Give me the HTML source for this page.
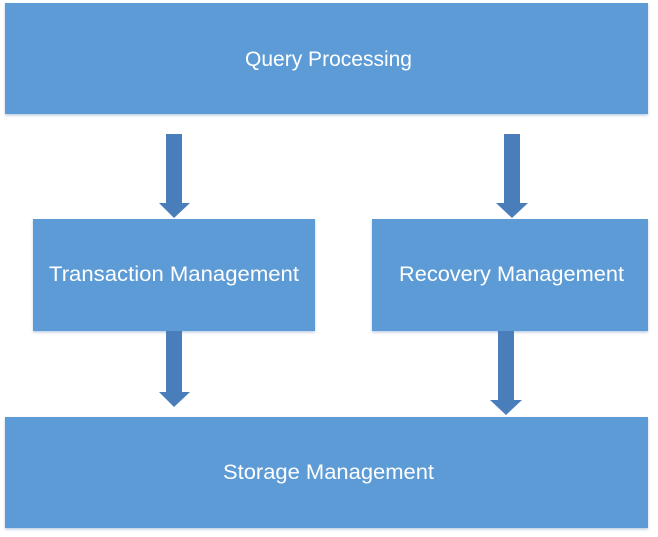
<!DOCTYPE html>
<html><head><meta charset="utf-8"><style>
html,body{margin:0;padding:0;background:#fff;}
svg{display:block;}
text{font-family:"Liberation Sans",sans-serif;font-size:21px;fill:#fff;}
</style></head><body>
<svg width="658" height="537" viewBox="0 0 658 537" xmlns="http://www.w3.org/2000/svg">
<defs><filter id="s" x="-5%" y="-5%" width="110%" height="115%"><feDropShadow dx="0" dy="1.5" stdDeviation="1.2" flood-color="#9fb8d6" flood-opacity="0.7"/></filter></defs>
<g fill="#5b9bd5" filter="url(#s)">
<rect x="5" y="3" width="643" height="111"/>
<rect x="33" y="219" width="282" height="112"/>
<rect x="372" y="219" width="276" height="112"/>
<rect x="5" y="417" width="643" height="111"/>
</g>
<g fill="#4a7ebb">
<polygon points="166,134 182,134 182,203 190,203 174,218 159,203 166,203"/>
<polygon points="504,134 520,134 520,203 528,203 512,218 496,203 504,203"/>
<polygon points="166,331 182,331 182,392 190,392 174,407 159,392 166,392"/>
<polygon points="498,331 514,331 514,400 522,400 506,415 490,400 498,400"/>
</g>
<text x="245" y="66" textLength="167" lengthAdjust="spacingAndGlyphs">Query Processing</text>
<text x="49" y="281" textLength="250" lengthAdjust="spacingAndGlyphs">Transaction Management</text>
<text x="399" y="281" textLength="225" lengthAdjust="spacingAndGlyphs">Recovery Management</text>
<text x="223" y="479" textLength="211" lengthAdjust="spacingAndGlyphs">Storage Management</text>
</svg>
</body></html>
